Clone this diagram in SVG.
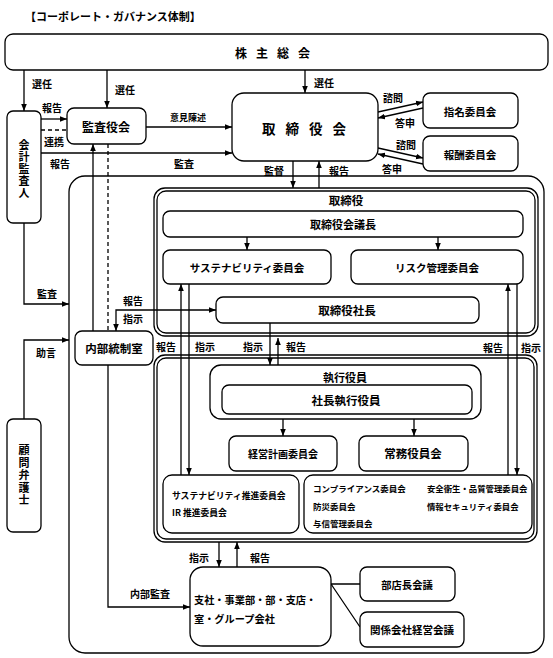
<svg xmlns="http://www.w3.org/2000/svg" width="553" height="658" viewBox="0 0 553 658">
<defs>
<marker id="ah" viewBox="0 0 10 10" refX="10" refY="5" markerWidth="7" markerHeight="7" markerUnits="userSpaceOnUse" orient="auto-start-reverse"><path d="M0,1 L10,5 L0,9 z" fill="#000"/></marker>
<style>
text{font-family:"Noto Sans CJK JP","Noto Sans CJK SC",sans-serif;font-weight:bold;fill:#000;dominant-baseline:central;text-anchor:middle}
.box{fill:#fff;stroke:#000;stroke-width:1.3}
.frame{fill:none;stroke:#000;stroke-width:1.3}
.c{fill:none;stroke:#000;stroke-width:1.3}
.a{marker-end:url(#ah)}
.b{marker-start:url(#ah);marker-end:url(#ah)}
.d{stroke-dasharray:4,3}
.lb{font-size:10px}
.sm{font-size:9px}
.l{text-anchor:start}
.v{font-size:11px;writing-mode:vertical-rl;letter-spacing:1px}
</style>
</defs>
<rect width="553" height="658" fill="#fff"/>
<text x="25" y="16" class="l" style="font-size:11px">【コーポレート・ガバナンス体制】</text>

<g id="company"><rect class="frame" x="69" y="176" width="475" height="477" rx="16"/></g>
<g id="torishimariyaku-group">
<rect class="frame" x="154" y="188" width="384" height="148" rx="11"/>
<rect class="frame" x="157" y="191" width="378" height="142" rx="9"/>
<text x="346" y="200" style="font-size:11.5px">取締役</text>
</g>
<g id="shikko-group">
<rect class="frame" x="154" y="355" width="383" height="187" rx="11"/>
<rect class="frame" x="157" y="358" width="377" height="181" rx="9"/>
</g>

<g id="connectors">
<path class="c a" d="M24,70 V111"/>
<path class="c a" d="M107,70 V108"/>
<path class="c a" d="M305,70 V93"/>
<path class="c a" d="M41,119 H67"/>
<path class="c d" d="M41,130 H67"/>
<path class="c a" d="M41,153 H232"/>
<path class="c a" d="M146,127 H232"/>
<path class="c a" d="M378,112 L423,102"/>
<path class="c a" d="M423,108 L378,118"/>
<path class="c a" d="M378,148 L423,158"/>
<path class="c a" d="M423,164 L378,154"/>
<path class="c a" d="M293,161 V188"/>
<path class="c a" d="M319,188 V161"/>
<path class="c a" d="M247,237 V250"/>
<path class="c a" d="M438,237 V250"/>
<path class="c a" d="M24,223 V304 H69"/>
<path class="c a" d="M24,419 V340 H69"/>
<path class="c a" d="M93,331 V144"/>
<path class="c d" d="M108,144 V331"/>
<path class="c a" d="M108,365 V607 H190"/>
<path class="c b" d="M116,331 V310 H216"/>
<path class="c a" d="M181,475 V284"/>
<path class="c a" d="M189,284 V475"/>
<path class="c a" d="M508,475 V284"/>
<path class="c a" d="M517,284 V475"/>
<path class="c a" d="M270,323 V365"/>
<path class="c a" d="M278,365 V338"/>
<path class="c a" d="M283,414 V436"/>
<path class="c a" d="M414,414 V436"/>
<path class="c a" d="M219,542 V567"/>
<path class="c a" d="M237,567 V542"/>
<path class="c" d="M331,584 H360 M331,584 L360,627"/>
</g>

<g id="labels">
<text class="lb" x="42" y="83">選任</text>
<text class="lb" x="125" y="89">選任</text>
<text class="lb" x="324" y="82">選任</text>
<text class="lb" x="52" y="107">報告</text>
<text class="lb" x="54" y="141">連携</text>
<text class="lb" x="60" y="163">報告</text>
<text class="lb" x="184" y="163">監査</text>
<text class="sm" x="188" y="117">意見陳述</text>
<text class="lb" x="393" y="97">諮問</text>
<text class="lb" x="405" y="122">答申</text>
<text class="lb" x="406" y="144">諮問</text>
<text class="lb" x="392" y="168">答申</text>
<text class="lb" x="274" y="170">監督</text>
<text class="lb" x="339" y="170">報告</text>
<text class="lb" x="47" y="293">監査</text>
<text class="lb" x="46" y="352">助言</text>
<text class="lb" x="133" y="300">報告</text>
<text class="lb" x="133" y="318">指示</text>
<text class="lb" x="166" y="346">報告</text>
<text class="lb" x="205" y="346">指示</text>
<text class="lb" x="253" y="346">指示</text>
<text class="lb" x="296" y="346">報告</text>
<text class="lb" x="493" y="347">報告</text>
<text class="lb" x="531" y="347">指示</text>
<text class="lb" x="150" y="593">内部監査</text>
<text class="lb" x="199" y="557">指示</text>
<text class="lb" x="260" y="557">報告</text>
</g>

<g id="kabunushi-sokai"><rect class="box" x="5" y="34" width="543" height="36" rx="8"/><text x="277" y="52" style="font-size:12px;letter-spacing:9px">株主総会</text></g>
<g id="kaikei-kansanin"><rect class="box" x="7" y="111" width="34" height="112" rx="6"/>
<text x="24" y="169" class="v">会計監査人</text></g>
<g id="kansayakukai"><rect class="box" x="67" y="108" width="79" height="36" rx="7"/><text x="106" y="126" style="font-size:12px">監査役会</text></g>
<g id="torishimariyakukai"><rect class="box" x="232" y="93" width="146" height="68" rx="12"/><text x="309" y="128" style="font-size:13.5px;letter-spacing:10px">取締役会</text></g>
<g id="shimei"><rect class="box" x="423" y="93" width="95" height="35" rx="7"/><text x="470" y="111" style="font-size:10.5px">指名委員会</text></g>
<g id="hoshu"><rect class="box" x="423" y="136" width="95" height="35" rx="7"/><text x="470" y="154" style="font-size:10.5px">報酬委員会</text></g>
<g id="gicho"><rect class="box" x="163" y="211" width="360" height="26" rx="7"/><text x="343" y="224" style="font-size:11px">取締役会議長</text></g>
<g id="sustainability"><rect class="box" x="163" y="250" width="168" height="34" rx="7"/><text x="247" y="267" style="font-size:10.5px">サステナビリティ委員会</text></g>
<g id="risk"><rect class="box" x="351" y="250" width="172" height="34" rx="7"/><text x="437" y="267" style="font-size:10.5px">リスク管理委員会</text></g>
<g id="shacho"><rect class="box" x="216" y="297" width="263" height="26" rx="7"/><text x="347" y="310" style="font-size:11.5px">取締役社長</text></g>
<g id="naibu-tosei"><rect class="box" x="75" y="331" width="78" height="34" rx="7"/><text x="114" y="348" style="font-size:11.5px">内部統制室</text></g>
<g id="komon"><rect class="box" x="7" y="419" width="34" height="113" rx="6"/>
<text x="24" y="476" class="v" style="letter-spacing:1.5px">顧問弁護士</text></g>
<g id="shikko-yakuin"><rect class="box" x="210" y="365" width="271" height="54" rx="11"/><text x="345" y="377" style="font-size:11px">執行役員</text>
<rect class="box" x="222" y="385" width="250" height="29" rx="7"/><text x="346" y="400" style="font-size:11.5px">社長執行役員</text></g>
<g id="keiei-keikaku"><rect class="box" x="229" y="436" width="108" height="35" rx="7"/><text x="283" y="453" style="font-size:10px">経営計画委員会</text></g>
<g id="jomu"><rect class="box" x="359" y="436" width="109" height="35" rx="7"/><text x="413" y="453" style="font-size:11.5px">常務役員会</text></g>
<g id="suishin"><rect class="box" x="163" y="475" width="136" height="58" rx="9"/>
<text class="l" x="172" y="495" style="font-size:8.8px">サステナビリティ推進委員会</text>
<text class="l" x="172" y="512" style="font-size:8.8px">IR 推進委員会</text></g>
<g id="iinkai"><rect class="box" x="304" y="475" width="228" height="58" rx="9"/>
<text class="l" x="313" y="488" style="font-size:8.5px">コンプライアンス委員会</text>
<text class="l" x="427" y="488" style="font-size:8.4px">安全衛生・品質管理委員会</text>
<text class="l" x="313" y="506" style="font-size:8.5px">防災委員会</text>
<text class="l" x="427" y="506" style="font-size:8.4px">情報セキュリティ委員会</text>
<text class="l" x="313" y="523" style="font-size:8.5px">与信管理委員会</text></g>
<g id="shisha"><rect class="box" x="190" y="567" width="141" height="79" rx="13"/>
<text class="l" x="194" y="599" style="font-size:10.2px">支社・事業部・部・支店・</text>
<text class="l" x="194" y="618" style="font-size:10.2px">室・グループ会社</text></g>
<g id="butencho"><rect class="box" x="360" y="567" width="95" height="34" rx="7"/><text x="407" y="584" style="font-size:10.3px">部店長会議</text></g>
<g id="kankei"><rect class="box" x="360" y="612" width="104" height="35" rx="7"/><text x="412" y="629" style="font-size:10.5px">関係会社経営会議</text></g>
</svg>
